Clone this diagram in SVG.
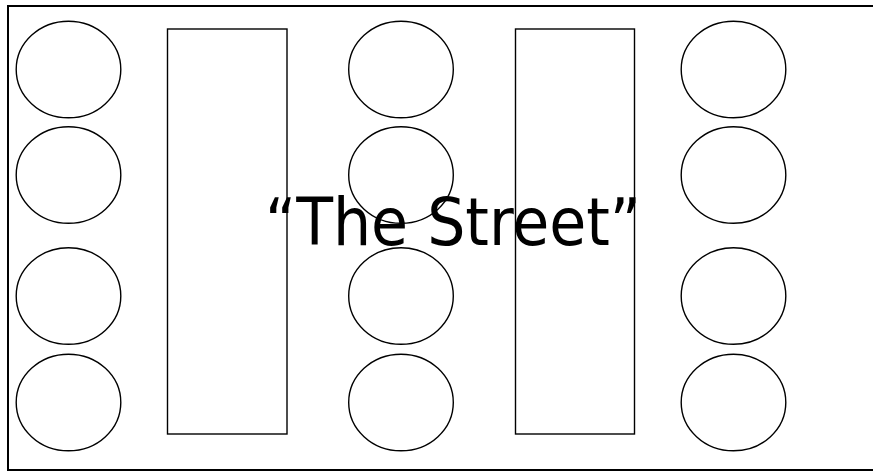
<svg xmlns="http://www.w3.org/2000/svg" width="873" height="471" viewBox="0 0 873 471">
<style>
.c{fill:none;stroke:#000;stroke-width:1.4}
.r{fill:none;stroke:#000;stroke-width:1.4}
.t{font-family:"DejaVu Sans Condensed","DejaVu Sans",sans-serif;font-size:66px;fill:#000}
</style>
<rect x="0" y="0" width="873" height="471" fill="#fff"/>
<path d="M873,6 H8 V470 H873" fill="none" stroke="#000" stroke-width="2"/>
<g id="tables">
<rect id="table1" class="r" x="167.5" y="29" width="119.5" height="405"/>
<rect id="table2" class="r" x="515.5" y="29" width="119" height="405"/>
</g>
<g id="seats-left">
<ellipse id="s1" class="c" cx="68.5" cy="69.5" rx="52.3" ry="48.3"/>
<ellipse id="s2" class="c" cx="68.5" cy="175" rx="52.3" ry="48.3"/>
<ellipse id="s3" class="c" cx="68.5" cy="296" rx="52.3" ry="48.3"/>
<ellipse id="s4" class="c" cx="68.5" cy="402.5" rx="52.3" ry="48.3"/>
</g>
<g id="seats-middle">
<ellipse id="s5" class="c" cx="401" cy="69.5" rx="52.3" ry="48.3"/>
<ellipse id="s6" class="c" cx="401" cy="175" rx="52.3" ry="48.3"/>
<ellipse id="s7" class="c" cx="401" cy="296" rx="52.3" ry="48.3"/>
<ellipse id="s8" class="c" cx="401" cy="402.5" rx="52.3" ry="48.3"/>
</g>
<g id="seats-right">
<ellipse id="s9" class="c" cx="733.5" cy="69.5" rx="52.3" ry="48.3"/>
<ellipse id="s10" class="c" cx="733.5" cy="175" rx="52.3" ry="48.3"/>
<ellipse id="s11" class="c" cx="733.5" cy="296" rx="52.3" ry="48.3"/>
<ellipse id="s12" class="c" cx="733.5" cy="402.5" rx="52.3" ry="48.3"/>
</g>
<g id="connectors"/>
<text class="t" x="265" y="245" textLength="376" lengthAdjust="spacingAndGlyphs">“The Street”</text>
</svg>
